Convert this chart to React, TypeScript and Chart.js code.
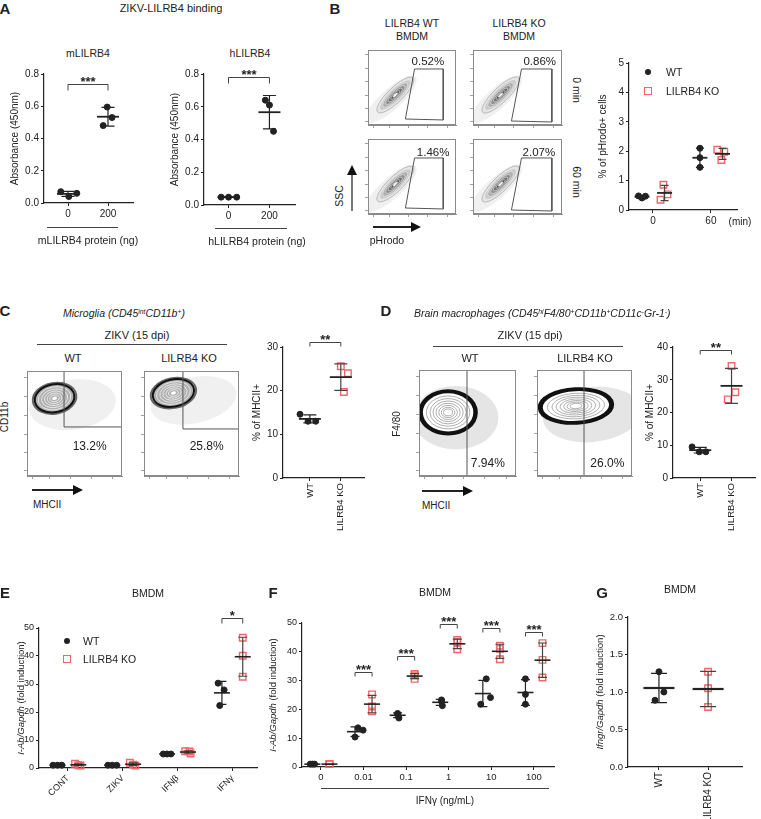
import React, { useEffect, useRef } from 'react';
import { Chart, registerables } from 'chart.js';

Chart.register(...registerables);

const FONT = '"Liberation Sans", Arial, Helvetica, sans-serif';
Chart.defaults.font.family = FONT;
Chart.defaults.color = '#222';
const INK = '#222';
const RED = '#ee6868';

// ---------------- DATA ----------------
const A_CATS = ['0', '200'];
const A_M_VALUES = [[0.07, 0.04, 0.06], [0.595, 0.48, 0.53]];
const A_H_VALUES = [[0.048, 0.048, 0.048], [0.64, 0.61, 0.45]];

const B_CATS = ['0', '60'];
const B_WT = [[0.48, 0.41, 0.47], [2.1, 1.78, 1.45]];
const B_KO = [[0.86, 0.35, 0.53], [2.05, 1.98, 1.7]];
const B_FLOW_PCTS = ['0.52%', '0.86%', '1.46%', '2.07%'];

const CD_CATS = ['WT', 'LILRB4 KO'];
const C_WT = [14.6, 13.0, 13.0];
const C_KO = [25.6, 24.0, 19.7];
const C_FLOW_PCTS = ['13.2%', '25.8%'];
const D_WT = [9.5, 8.0, 8.0];
const D_KO = [34.2, 26.2, 24.0];
const D_FLOW_PCTS = ['7.94%', '26.0%'];

const E_CATS = ['CONT', 'ZIKV', 'IFNβ', 'IFNγ'];
const E_WT = [[1, 1, 1], [1, 1, 1], [5, 5, 5], [30.3, 27.9, 22.3]];
const E_KO = [[1.5, 0.9, 1.0], [1.9, 0.9, 1.2], [6.0, 5.2, 5.9], [46.5, 40.1, 32.6]];

const F_CATS = ['0', '0.01', '0.1', '1', '10', '100'];
const F_WT = [[1, 1, 1], [10.4, 13.6, 12.8], [18.6, 17.0, 18.3], [23.3, 21.3, 22.8], [30.6, 24.1, 21.8], [30.6, 25.2, 21.8]];
const F_KO = [[1, 1, 1], [25.2, 21.0, 19.3], [32.3, 30.6, 31.8], [44.1, 40.9, 43.3], [42.1, 41.0, 37.4], [43.0, 37.2, 31.1]];

const G_CATS = ['WT', 'LILRB4 KO'];
const G_WT = [1.27, 1.0, 0.89];
const G_KO = [1.27, 1.05, 0.8];

// ---------------- helpers ----------------
const mean = (a: number[]) => a.reduce((s, v) => s + v, 0) / a.length;
const sdev = (a: number[]) => {
  const m = mean(a);
  return Math.sqrt(a.reduce((s, v) => s + (v - m) ** 2, 0) / (a.length - 1));
};

type Series = { pos: number[]; values: number[][]; jitter: number[][]; ko: boolean };
type Bracket = { a: number; b: number; y: number; label: string };
type DotCfg = {
  cats: string[]; xMin: number; xMax: number; yMax: number; yStep: number; yDec: number;
  yW: number; xH: number; padTop: number; padRight: number; rot: number; xFont: number; yFont: number;
  series: Series[]; meanW: number; capW: number; meanLW: number;
  brackets: Bracket[]; drop: number;
  yTitle: { x: number; size: number; parts: [string, boolean][] };
};

function dotConfig(c: DotCfg): any {
  const grid = { display: true, drawOnChartArea: false, drawTicks: true, tickLength: 3, color: INK, lineWidth: 1 };
  const border = { display: true, color: INK, width: 1.2 };
  const datasets = c.series.map((s) => ({
    data: s.values.flatMap((vals, gi) => vals.map((v, k) => ({ x: s.pos[gi] + (s.jitter[gi]?.[k] ?? 0), y: v }))),
    pointStyle: s.ko ? 'rect' : 'circle',
    pointRadius: s.ko ? 4.6 : 3,
    pointBackgroundColor: s.ko ? 'rgba(255,255,255,0)' : INK,
    pointBorderColor: s.ko ? RED : INK,
    pointBorderWidth: s.ko ? 1.4 : 1,
    showLine: false,
    clip: false,
  }));
  const plugin = {
    id: 'statsAndText',
    afterDatasetsDraw(chart: any) {
      const { ctx } = chart;
      const xs = chart.scales.x;
      const ys = chart.scales.y;
      ctx.save();
      c.series.forEach((s) =>
        s.values.forEach((vals, gi) => {
          const m = mean(vals);
          const d = sdev(vals);
          const px = xs.getPixelForValue(s.pos[gi]);
          const pm = ys.getPixelForValue(m);
          const pt = ys.getPixelForValue(m + d);
          const pb = ys.getPixelForValue(m - d);
          ctx.strokeStyle = s.ko ? '#444' : INK;
          ctx.lineWidth = 1.2;
          ctx.beginPath();
          ctx.moveTo(px, pt);
          ctx.lineTo(px, pb);
          ctx.moveTo(px - c.capW / 2, pt);
          ctx.lineTo(px + c.capW / 2, pt);
          ctx.moveTo(px - c.capW / 2, pb);
          ctx.lineTo(px + c.capW / 2, pb);
          ctx.stroke();
          ctx.strokeStyle = INK;
          ctx.lineWidth = c.meanLW;
          ctx.beginPath();
          ctx.moveTo(px - c.meanW / 2, pm);
          ctx.lineTo(px + c.meanW / 2, pm);
          ctx.stroke();
        })
      );
      c.brackets.forEach((b) => {
        const xa = xs.getPixelForValue(b.a);
        const xb = xs.getPixelForValue(b.b);
        const py = Math.round(ys.getPixelForValue(b.y)) + 0.5;
        ctx.strokeStyle = '#444';
        ctx.lineWidth = 1;
        ctx.beginPath();
        ctx.moveTo(xa, py + c.drop);
        ctx.lineTo(xa, py);
        ctx.lineTo(xb, py);
        ctx.lineTo(xb, py + c.drop);
        ctx.stroke();
        ctx.fillStyle = INK;
        ctx.font = `bold 13px ${FONT}`;
        ctx.textAlign = 'center';
        ctx.textBaseline = 'alphabetic';
        ctx.fillText(b.label, (xa + xb) / 2, py + 1);
      });
      ctx.restore();
    },
    afterDraw(chart: any) {
      const { ctx, chartArea } = chart;
      ctx.save();
      ctx.translate(c.yTitle.x, (chartArea.top + chartArea.bottom) / 2);
      ctx.rotate(-Math.PI / 2);
      ctx.textBaseline = 'middle';
      ctx.fillStyle = INK;
      const fonts = c.yTitle.parts.map(([, it]) => `${it ? 'italic ' : ''}${c.yTitle.size}px ${FONT}`);
      let total = 0;
      const widths = c.yTitle.parts.map(([t], i) => {
        ctx.font = fonts[i];
        const w = ctx.measureText(t).width;
        total += w;
        return w;
      });
      let x = -total / 2;
      c.yTitle.parts.forEach(([t], i) => {
        ctx.font = fonts[i];
        ctx.textAlign = 'left';
        ctx.fillText(t, x, 0);
        x += widths[i];
      });
      ctx.restore();
    },
  };
  return {
    type: 'scatter',
    data: { datasets },
    options: {
      responsive: false,
      animation: false,
      events: [],
      layout: { padding: { top: c.padTop, right: c.padRight, left: 0, bottom: 0 } },
      plugins: { legend: { display: false }, tooltip: { enabled: false } },
      scales: {
        x: {
          type: 'linear',
          min: c.xMin,
          max: c.xMax,
          afterBuildTicks: (s: any) => {
            s.ticks = c.cats.map((_, i) => ({ value: i }));
          },
          ticks: {
            callback: (v: any) => c.cats[Math.round(Number(v))] ?? '',
            font: { size: c.xFont },
            color: INK,
            padding: 2,
            minRotation: c.rot,
            maxRotation: c.rot,
            autoSkip: false,
          },
          grid,
          border,
          afterFit: (s: any) => {
            s.height = c.xH;
          },
        },
        y: {
          type: 'linear',
          min: 0,
          max: c.yMax,
          ticks: {
            stepSize: c.yStep,
            callback: (v: any) => Number(v).toFixed(c.yDec),
            font: { size: c.yFont },
            color: INK,
            padding: 2,
          },
          grid,
          border,
          afterFit: (s: any) => {
            s.width = c.yW;
          },
        },
      },
    },
    plugins: [plugin],
  };
}

type Ell = { cx: number; cy: number; rx: number; ry: number; rot: number };
type FlowCfg = { gate: number[][]; blob: Ell; halo: Ell; style: 'B' | 'C' | 'D'; label: string; lx: number; ly: number; fs: number };

const FLOW_X_TICKS = [6, 24, 46, 68, 90];
const FLOW_Y_TICKS = [5, 22, 40, 58, 76, 94];

function flowConfig(f: FlowCfg): any {
  const grid = { display: true, drawOnChartArea: false, drawTicks: true, tickLength: 3, color: '#888', lineWidth: 0.8 };
  const plugin = {
    id: 'flow',
    beforeDatasetsDraw(chart: any) {
      const { ctx, chartArea: ca } = chart;
      const xs = chart.scales.x;
      const ys = chart.scales.y;
      ctx.save();
      ctx.beginPath();
      ctx.rect(ca.left, ca.top, ca.width, ca.height);
      ctx.clip();
      const ell = (e: Ell, k: number) => {
        ctx.beginPath();
        ctx.ellipse(
          xs.getPixelForValue(e.cx),
          ys.getPixelForValue(e.cy),
          Math.max(0.5, (e.rx * k * ca.width) / 100),
          Math.max(0.5, (e.ry * k * ca.height) / 100),
          (-e.rot * Math.PI) / 180,
          0,
          Math.PI * 2
        );
      };
      ell(f.halo, 1);
      ctx.fillStyle = f.style === 'D' ? 'rgba(0,0,0,0.10)' : 'rgba(0,0,0,0.06)';
      ctx.fill();
      if (f.style === 'B') {
        const levels = [1, 0.84, 0.68, 0.53, 0.38, 0.24, 0.12];
        const fills = ['#e4e4e4', '#cacaca', '#adadad', '#8e8e8e', '#6e6e6e', '#505050', '#f4f4f4'];
        levels.forEach((k, i) => {
          ell(f.blob, k);
          ctx.fillStyle = fills[i];
          ctx.fill();
          ctx.strokeStyle = i === 0 ? '#999' : '#f0f0f0';
          ctx.lineWidth = 0.6;
          ctx.stroke();
        });
      } else if (f.style === 'C') {
        ell(f.blob, 1.1);
        ctx.strokeStyle = '#666';
        ctx.lineWidth = 2;
        ctx.stroke();
        ell(f.blob, 1);
        ctx.fillStyle = '#b0b0b0';
        ctx.fill();
        ctx.strokeStyle = '#111';
        ctx.lineWidth = 2;
        ctx.stroke();
        [0.82, 0.66, 0.51, 0.37, 0.24].forEach((k) => {
          ell(f.blob, k);
          ctx.strokeStyle = '#ffffff';
          ctx.lineWidth = 0.7;
          ctx.stroke();
        });
        ell(f.blob, 0.12);
        ctx.fillStyle = '#fff';
        ctx.fill();
      } else {
        ell(f.blob, 1.06);
        ctx.strokeStyle = '#111';
        ctx.lineWidth = 6;
        ctx.stroke();
        ell(f.blob, 1);
        ctx.fillStyle = '#fff';
        ctx.fill();
        [0.86, 0.72, 0.6, 0.48, 0.37, 0.27, 0.18].forEach((k) => {
          ell(f.blob, k);
          ctx.strokeStyle = '#9a9a9a';
          ctx.lineWidth = 0.8;
          ctx.stroke();
        });
      }
      ctx.restore();
    },
    afterDraw(chart: any) {
      const { ctx, chartArea: ca } = chart;
      const xs = chart.scales.x;
      const ys = chart.scales.y;
      ctx.save();
      ctx.strokeStyle = '#8a8a8a';
      ctx.lineWidth = 1;
      ctx.strokeRect(ca.left + 0.5, ca.top + 0.5, ca.width - 1, ca.height - 1);
      ctx.fillStyle = INK;
      ctx.font = `${f.fs}px ${FONT}`;
      ctx.textAlign = 'center';
      ctx.textBaseline = 'middle';
      ctx.fillText(f.label, xs.getPixelForValue(f.lx), ys.getPixelForValue(f.ly));
      ctx.restore();
    },
  };
  const closed = [...f.gate, f.gate[0]];
  return {
    type: 'scatter',
    data: {
      datasets: [
        {
          data: closed.map(([x, y]) => ({ x, y })),
          showLine: true,
          borderColor: '#555',
          borderWidth: 1,
          pointRadius: 0,
          fill: false,
          tension: 0,
        },
      ],
    },
    options: {
      responsive: false,
      animation: false,
      events: [],
      layout: { padding: { top: 2, right: 2, left: 0, bottom: 0 } },
      plugins: { legend: { display: false }, tooltip: { enabled: false } },
      scales: {
        x: {
          type: 'linear', min: 0, max: 100,
          afterBuildTicks: (s: any) => { s.ticks = FLOW_X_TICKS.map((v) => ({ value: v })); },
          ticks: { display: false },
          grid, border: { display: true, color: '#8a8a8a' },
          afterFit: (s: any) => { s.height = 5; },
        },
        y: {
          type: 'linear', min: 0, max: 100,
          afterBuildTicks: (s: any) => { s.ticks = FLOW_Y_TICKS.map((v) => ({ value: v })); },
          ticks: { display: false },
          grid, border: { display: true, color: '#8a8a8a' },
          afterFit: (s: any) => { s.width = 5; },
        },
      },
    },
    plugins: [plugin],
  };
}

function ChartCanvas({ left, top, width, height, config }: { left: number; top: number; width: number; height: number; config: () => any }) {
  const ref = useRef<HTMLCanvasElement>(null);
  useEffect(() => {
    const chart = new Chart(ref.current as HTMLCanvasElement, config());
    return () => chart.destroy();
  }, []);
  return <canvas ref={ref} width={width} height={height} style={{ position: 'absolute', left, top, width, height }} />;
}

function Flow({ x, y, w, h, cfg }: { x: number; y: number; w: number; h: number; cfg: FlowCfg }) {
  return <ChartCanvas left={x - 5} top={y - 2} width={w + 7} height={h + 7} config={() => flowConfig(cfg)} />;
}

function Txt({ x, y, children, size = 11, bold = false, italic = false, anchor = 'center', rot = 0 }: any) {
  const tx = anchor === 'center' ? '-50%' : anchor === 'right' ? '-100%' : '0';
  return (
    <div
      style={{
        position: 'absolute', left: x, top: y, whiteSpace: 'nowrap', lineHeight: 1,
        fontFamily: FONT, fontSize: size, fontWeight: bold ? 700 : 400, fontStyle: italic ? 'italic' : 'normal',
        color: INK, transform: `translate(${tx}, -50%) rotate(${rot}deg)`,
      }}
    >
      {children}
    </div>
  );
}

const HLine = ({ x1, x2, y }: any) => (
  <div style={{ position: 'absolute', left: x1, top: y, width: x2 - x1, height: 0, borderTop: '1px solid #444' }} />
);
const HArrow = ({ x1, x2, y }: any) => (
  <>
    <div style={{ position: 'absolute', left: x1, top: y - 0.6, width: x2 - x1 - 8, height: 1.3, background: '#222' }} />
    <div style={{ position: 'absolute', left: x2 - 10, top: y - 5, width: 0, height: 0, borderTop: '5px solid transparent', borderBottom: '5px solid transparent', borderLeft: '10px solid #111' }} />
  </>
);
const VArrow = ({ x, y1, y2 }: any) => (
  <>
    <div style={{ position: 'absolute', left: x - 0.6, top: y2 + 8, width: 1.3, height: y1 - y2 - 8, background: '#777' }} />
    <div style={{ position: 'absolute', left: x - 5, top: y2, width: 0, height: 0, borderLeft: '5px solid transparent', borderRight: '5px solid transparent', borderBottom: '10px solid #111' }} />
  </>
);
const Dot = ({ x, y }: any) => (
  <div style={{ position: 'absolute', left: x - 3, top: y - 3, width: 6, height: 6, borderRadius: 3, background: INK }} />
);
const Sq = ({ x, y }: any) => (
  <div style={{ position: 'absolute', left: x - 3.7, top: y - 3.7, width: 5.4, height: 5.4, border: `1.4px solid ${RED}` }} />
);
const Sup = ({ children }: any) => <span style={{ fontSize: '0.65em', verticalAlign: '0.45em', lineHeight: 0 }}>{children}</span>;

const B_GATE_1 = [[52.9, 74.7], [85.5, 74.7], [85.5, 6.7], [42.5, 8]];
const B_GATE_2 = [[54.5, 74.7], [88.6, 74.7], [88.6, 4], [43.2, 5.3]];
const B_BLOB: Ell = { cx: 31, cy: 40, rx: 28, ry: 10, rot: 44 };
const B_HALO: Ell = { cx: 26, cy: 34, rx: 38, ry: 14, rot: 42 };

export default function App() {
  const ySingle = (x: number, t: string) => ({ x, size: 10, parts: [[t, false]] as [string, boolean][] });
  const yAb = (x: number) => ({ x, size: 9.5, parts: [['I-Ab/Gapdh', true], [' (fold induction)', false]] as [string, boolean][] });

  const aCfg = (vals: number[][], jit: number[][], yBr: number, xH: number, yTitleX: number): DotCfg => ({
    cats: A_CATS, xMin: -0.6, xMax: 1.625, yMax: 0.8, yStep: 0.2, yDec: 1,
    yW: 44, xH, padTop: 14, padRight: 7, rot: 0, xFont: 10, yFont: 10,
    series: [{ pos: [0, 1], values: vals, jitter: jit, ko: false }],
    meanW: 22, capW: 13, meanLW: 1.8,
    brackets: [{ a: 0, b: 1, y: yBr, label: '***' }], drop: 6,
    yTitle: ySingle(yTitleX, 'Absorbance (450nm)'),
  });

  const bCfg: DotCfg = {
    cats: B_CATS, xMin: -0.414, xMax: 1.45, yMax: 5, yStep: 1, yDec: 0,
    yW: 37, xH: 20, padTop: 13, padRight: 10, rot: 0, xFont: 10, yFont: 10,
    series: [
      { pos: [-0.19, 0.81], values: B_WT, jitter: [[-0.06, 0, 0.06], [0, 0, 0]], ko: false },
      { pos: [0.2, 1.2], values: B_KO, jitter: [[-0.02, -0.07, 0.05], [-0.09, 0.03, -0.02]], ko: true },
    ],
    meanW: 15, capW: 8, meanLW: 1.8, brackets: [], drop: 4,
    yTitle: ySingle(11, '% of pHrodo+ cells'),
  };

  const cdCfg = (wt: number[], ko: number[], yMax: number, br: number, jw: number[], jk: number[], yTitleX: number, padRight: number): DotCfg => ({
    cats: CD_CATS, xMin: -0.87, xMax: 1.75, yMax, yStep: 10, yDec: 0,
    yW: 35, xH: 64, padTop: 17, padRight, rot: 90, xFont: 9.5, yFont: 10,
    series: [
      { pos: [0], values: [wt], jitter: [jw], ko: false },
      { pos: [1], values: [ko], jitter: [jk], ko: true },
    ],
    meanW: 22, capW: 13, meanLW: 1.8,
    brackets: [{ a: 0, b: 1, y: br, label: '**' }], drop: 4,
    yTitle: ySingle(yTitleX, '% of MHCII+'),
  });

  const eCfg: DotCfg = {
    cats: E_CATS, xMin: -0.527, xMax: 3.45, yMax: 50, yStep: 10, yDec: 0,
    yW: 39, xH: 37, padTop: 28, padRight: 8, rot: 45, xFont: 9, yFont: 9,
    series: [
      { pos: [-0.19, 0.81, 1.81, 2.81], values: E_WT, jitter: [[-0.08, 0, 0.08], [-0.08, 0, 0.08], [-0.07, 0, 0.07], [-0.07, 0.04, -0.04]], ko: false },
      { pos: [0.19, 1.19, 2.19, 3.19], values: E_KO, jitter: [[-0.06, 0.04, 0.0], [-0.06, 0.04, 0.0], [-0.05, 0.05, 0.03], [0, 0, 0]], ko: true },
    ],
    meanW: 16, capW: 9, meanLW: 1.6,
    brackets: [{ a: 2.81, b: 3.19, y: 53.5, label: '*' }], drop: 5,
    yTitle: yAb(21),
  };

  const fCfg: DotCfg = {
    cats: F_CATS, xMin: -0.444, xMax: 5.47, yMax: 50, yStep: 10, yDec: 0,
    yW: 40, xH: 23, padTop: 23, padRight: 5, rot: 0, xFont: 9.5, yFont: 9,
    series: [
      { pos: [-0.2, 0.8, 1.8, 2.8, 3.8, 4.8], values: F_WT, jitter: [[-0.05, 0, 0.05], [0, 0.07, 0.19], [0, 0.03, 0], [0.03, 0.05, 0.03], [0.08, 0.18, -0.05], [0, 0, 0]], ko: false },
      { pos: [0.2, 1.2, 2.2, 3.2, 4.2, 5.2], values: F_KO, jitter: [[0, 0, 0], [0, 0, 0], [0, 0, 0], [0, 0, 0], [0, 0, 0], [0, 0, 0]], ko: true },
    ],
    meanW: 16, capW: 9, meanLW: 1.6,
    brackets: [
      { a: 0.8, b: 1.2, y: 33, label: '***' },
      { a: 1.8, b: 2.2, y: 38.5, label: '***' },
      { a: 2.8, b: 3.2, y: 49.6, label: '***' },
      { a: 3.8, b: 4.2, y: 48.2, label: '***' },
      { a: 4.8, b: 5.2, y: 46.9, label: '***' },
    ],
    drop: 4,
    yTitle: yAb(11),
  };

  const gCfg: DotCfg = {
    cats: G_CATS, xMin: -0.63, xMax: 1.69, yMax: 2, yStep: 0.5, yDec: 1,
    yW: 40, xH: 52, padTop: 17, padRight: 19, rot: 90, xFont: 10, yFont: 9.5,
    series: [
      { pos: [0], values: [G_WT], jitter: [[0, 0.1, -0.08]], ko: false },
      { pos: [1], values: [G_KO], jitter: [[0, 0, 0]], ko: true },
    ],
    meanW: 31, capW: 16, meanLW: 2.2, brackets: [], drop: 4,
    yTitle: { x: 12, size: 9.5, parts: [['Ifngr/Gapdh', true], [' (fold induction)', false]] },
  };

  const bFlows: { x: number; y: number; w: number; gate: number[][]; lx: number; ly: number }[] = [
    { x: 368, y: 50, w: 88, gate: B_GATE_1, lx: 68, ly: 84 },
    { x: 473, y: 50, w: 89, gate: B_GATE_2, lx: 75, ly: 84 },
    { x: 368, y: 139, w: 88, gate: B_GATE_1, lx: 74, ly: 82 },
    { x: 473, y: 139, w: 89, gate: B_GATE_2, lx: 74, ly: 82 },
  ];

  return (
    <div style={{ position: 'absolute', left: 0, top: 0, width: 761, height: 819, background: '#fff', overflow: 'hidden' }}>
      {/* Panel A */}
      <ChartCanvas left={0} top={60} width={140} height={168}
        config={() => dotConfig(aCfg(A_M_VALUES, [[-0.18, 0.02, 0.22], [-0.02, -0.12, 0.1]], 0.74, 25, 15))} />
      <ChartCanvas left={160} top={60} width={142} height={168}
        config={() => dotConfig(aCfg(A_H_VALUES, [[-0.18, 0, 0.2], [-0.1, 0, 0.1]], 0.78, 23, 15))} />

      {/* Panel B */}
      {bFlows.map((p, i) => (
        <Flow key={i} x={p.x} y={p.y} w={p.w} h={75}
          cfg={{ gate: p.gate, blob: B_BLOB, halo: B_HALO, style: 'B', label: B_FLOW_PCTS[i], lx: p.lx, ly: p.ly, fs: 11.5 }} />
      ))}
      <ChartCanvas left={592} top={50} width={155} height={180} config={() => dotConfig(bCfg)} />

      {/* Panel C */}
      <Flow x={27} y={371} w={95} h={105}
        cfg={{ gate: [[39, 100], [100, 100], [100, 46.7], [39, 46.7]], blob: { cx: 29, cy: 74, rx: 21, ry: 13.3, rot: 10 }, halo: { cx: 48, cy: 68, rx: 46, ry: 24, rot: 8 }, style: 'C', label: C_FLOW_PCTS[0], lx: 66, ly: 27.6, fs: 12 }} />
      <Flow x={144} y={371} w={95} h={105}
        cfg={{ gate: [[41, 100], [100, 100], [100, 44.8], [41, 44.8]], blob: { cx: 31, cy: 79, rx: 22, ry: 12.9, rot: 12 }, halo: { cx: 52, cy: 72, rx: 46, ry: 22, rot: 12 }, style: 'C', label: C_FLOW_PCTS[1], lx: 66, ly: 27.6, fs: 12 }} />
      <ChartCanvas left={248} top={330} width={122} height={212}
        config={() => dotConfig(cdCfg(C_WT, C_KO, 30, 31.2, [-0.32, -0.06, 0.19], [0, 0.23, 0.1], 9, 5))} />

      {/* Panel D */}
      <Flow x={419} y={370} w={97} h={106}
        cfg={{ gate: [[49.5, 100], [100, 100], [100, 0], [49.5, 0]], blob: { cx: 30, cy: 60, rx: 26, ry: 18, rot: 0 }, halo: { cx: 38, cy: 55, rx: 44, ry: 30, rot: 0 }, style: 'D', label: D_FLOW_PCTS[0], lx: 71, ly: 12, fs: 12 }} />
      <Flow x={537} y={370} w={95} h={106}
        cfg={{ gate: [[49.5, 100], [100, 100], [100, 0], [49.5, 0]], blob: { cx: 41, cy: 66, rx: 35, ry: 14, rot: 3 }, halo: { cx: 58, cy: 58, rx: 52, ry: 26, rot: 6 }, style: 'D', label: D_FLOW_PCTS[1], lx: 74, ly: 12, fs: 12 }} />
      <ChartCanvas left={638} top={330} width={123} height={212}
        config={() => dotConfig(cdCfg(D_WT, D_KO, 40, 39.1, [-0.26, -0.03, 0.18], [0, 0.12, -0.12], 12, 3))} />

      {/* Panels E, F, G */}
      <ChartCanvas left={0} top={600} width={265} height={205} config={() => dotConfig(eCfg)} />
      <ChartCanvas left={262} top={600} width={298} height={190} config={() => dotConfig(fCfg)} />
      <ChartCanvas left={588} top={600} width={173} height={219} config={() => dotConfig(gCfg)} />

      {/* ---- text overlays ---- */}
      <Txt x={5} y={8} size={15} bold>A</Txt>
      <Txt x={171} y={8} size={11}>ZIKV-LILRB4 binding</Txt>
      <Txt x={88} y={53} size={10.5}>mLILRB4</Txt>
      <Txt x={250} y={53} size={10.5}>hLILRB4</Txt>
      <HLine x1={47} x2={118} y={227} />
      <HLine x1={215} x2={287} y={228} />
      <Txt x={88} y={240} size={10.5}>mLILRB4 protein (ng)</Txt>
      <Txt x={257} y={241} size={10.5}>hLILRB4 protein (ng)</Txt>

      <Txt x={335} y={8} size={15} bold>B</Txt>
      <Txt x={412} y={23} size={10.5}>LILRB4 WT</Txt>
      <Txt x={412} y={36} size={10.5}>BMDM</Txt>
      <Txt x={519} y={23} size={10.5}>LILRB4 KO</Txt>
      <Txt x={519} y={36} size={10.5}>BMDM</Txt>
      <Txt x={577} y={90} size={10.5} rot={90}>0 min</Txt>
      <Txt x={577} y={182} size={10.5} rot={90}>60 min</Txt>
      <Txt x={339} y={196} size={10.5} rot={-90}>SSC</Txt>
      <VArrow x={352} y1={211} y2={165} />
      <HArrow x1={373} x2={421} y={227} />
      <Txt x={387} y={240} size={10.5}>pHrodo</Txt>
      <Dot x={648} y={72} />
      <Txt x={666} y={72} size={10.5} anchor="left">WT</Txt>
      <Sq x={648} y={91} />
      <Txt x={666} y={91} size={10.5} anchor="left">LILRB4 KO</Txt>
      <Txt x={740} y={222} size={10}>(min)</Txt>

      <Txt x={5} y={310} size={15} bold>C</Txt>
      <Txt x={63} y={313} size={10.5} italic anchor="left">
        Microglia (CD45<Sup>int</Sup>CD11b<Sup>+</Sup>)
      </Txt>
      <Txt x={137} y={335} size={11}>ZIKV (15 dpi)</Txt>
      <HLine x1={37} x2={227} y={344} />
      <Txt x={73} y={358} size={11}>WT</Txt>
      <Txt x={189} y={358} size={11}>LILRB4 KO</Txt>
      <Txt x={5} y={417} size={10} rot={-90}>CD11b</Txt>
      <HArrow x1={32} x2={83} y={490} />
      <Txt x={33} y={505} size={10} anchor="left">MHCII</Txt>

      <Txt x={386} y={310} size={15} bold>D</Txt>
      <Txt x={414} y={313} size={10.5} italic anchor="left">
        Brain macrophages (CD45<Sup>hi</Sup>F4/80<Sup>+</Sup>CD11b<Sup>+</Sup>CD11c<Sup>-</Sup>Gr-1<Sup>-</Sup>)
      </Txt>
      <Txt x={530} y={335} size={11}>ZIKV (15 dpi)</Txt>
      <HLine x1={433} x2={623} y={346} />
      <Txt x={470} y={358} size={11}>WT</Txt>
      <Txt x={585} y={358} size={11}>LILRB4 KO</Txt>
      <Txt x={397} y={424} size={10} rot={-90}>F4/80</Txt>
      <HArrow x1={422} x2={473} y={491} />
      <Txt x={422} y={506} size={10} anchor="left">MHCII</Txt>

      <Txt x={5} y={592} size={15} bold>E</Txt>
      <Txt x={148} y={593} size={10.5}>BMDM</Txt>
      <Dot x={67} y={641} />
      <Txt x={83} y={641} size={10.5} anchor="left">WT</Txt>
      <Sq x={67} y={659} />
      <Txt x={83} y={659} size={10.5} anchor="left">LILRB4 KO</Txt>

      <Txt x={273} y={592} size={15} bold>F</Txt>
      <Txt x={435} y={592} size={10.5}>BMDM</Txt>
      <HLine x1={321} x2={549} y={788} />
      <Txt x={445} y={801} size={10}>IFNγ (ng/mL)</Txt>

      <Txt x={602} y={592} size={15} bold>G</Txt>
      <Txt x={680} y={589} size={10.5}>BMDM</Txt>
    </div>
  );
}
